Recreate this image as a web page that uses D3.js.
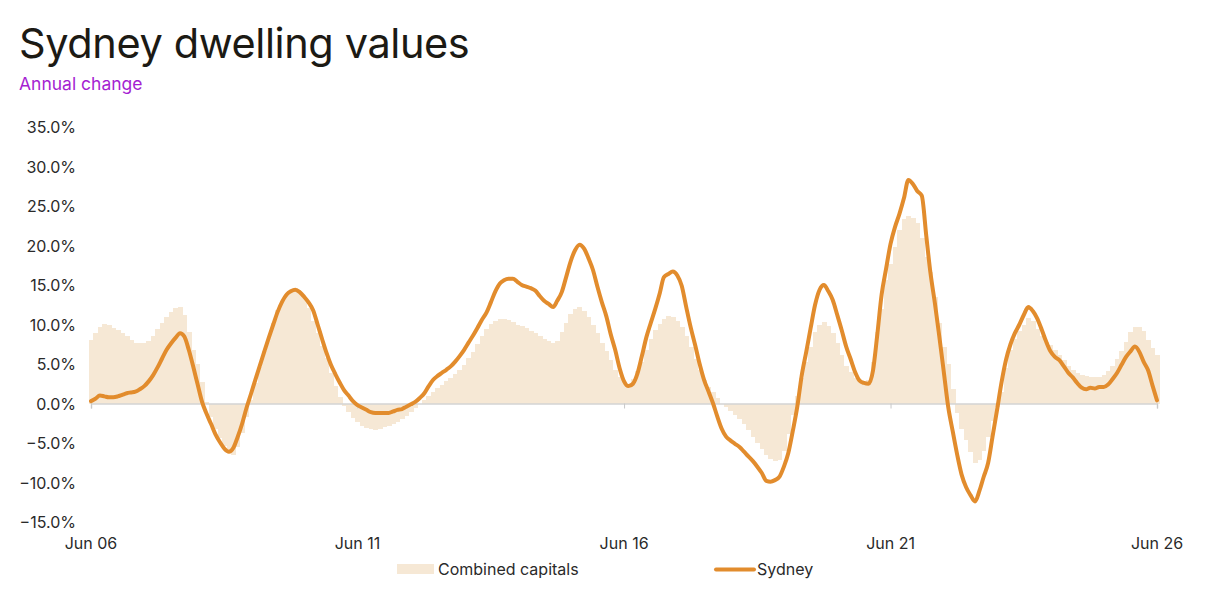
<!DOCTYPE html>
<html>
<head>
<meta charset="utf-8">
<script src="https://cdn.jsdelivr.net/npm/d3@7"></script>
<style>
  body { margin: 0; background: #fff; }
  svg { display: block; font-family: Inter, "Noto Sans", sans-serif; }
</style>
</head>
<body>
<svg id="chart" width="1216" height="604"></svg>
<script>
// Monthly annual change (%), Jun 2006 .. Jun 2026
const combinedCapitals = [
  8.0, 8.9, 9.7, 10.1, 9.9, 9.6, 9.3, 8.9, 8.5, 8.0, 7.7, 7.6, 7.7, 7.9, 8.6, 9.4, 10.2, 10.9, 11.6, 12.1,
  12.2, 11.2, 9.0, 6.8, 5.0, 2.7, 0.2, -1.7, -3.2, -4.4, -5.4, -6.3, -6.5, -5.5, -3.7, -1.7, 0.4, 2.6, 4.6, 6.6,
  8.4, 10.2, 11.8, 13.0, 13.9, 14.4, 14.6, 14.2, 13.4, 12.1, 10.5, 8.9, 7.3, 5.8, 3.8, 2.2, 0.8, -0.3, -1.1, -1.8,
  -2.4, -2.8, -3.1, -3.2, -3.3, -3.2, -3.0, -2.8, -2.6, -2.3, -2.0, -1.6, -1.1, -0.6, -0.1, 0.5, 1.0, 1.5, 2.0, 2.4,
  2.8, 3.2, 3.7, 4.3, 4.9, 5.7, 6.5, 7.5, 8.5, 9.4, 10.1, 10.5, 10.7, 10.7, 10.6, 10.3, 10.0, 9.8, 9.5, 9.2,
  8.9, 8.6, 8.2, 7.9, 7.6, 7.9, 9.0, 10.2, 11.3, 12.0, 12.2, 11.7, 11.0, 9.9, 8.9, 7.7, 6.6, 5.5, 4.3, 3.3,
  2.7, 2.5, 3.1, 4.1, 5.3, 6.8, 8.2, 9.3, 10.1, 10.7, 11.1, 11.0, 10.5, 9.7, 8.5, 7.2, 5.6, 4.2, 3.0, 2.1,
  1.4, 0.7, 0.0, -0.5, -1.0, -1.5, -2.0, -2.6, -3.3, -4.2, -5.0, -5.8, -6.5, -7.0, -7.3, -7.1, -6.0, -3.9, -1.5, 1.0,
  3.2, 5.2, 7.2, 9.0, 10.0, 10.3, 9.8, 8.9, 7.6, 6.2, 4.8, 4.0, 3.2, 2.7, 2.6, 3.0, 5.2, 9.0, 12.0, 15.6,
  17.7, 19.8, 22.0, 23.3, 23.7, 23.5, 22.8, 21.0, 18.6, 16.7, 13.5, 10.2, 7.2, 5.0, 1.8, -1.2, -3.2, -4.6, -6.2, -7.5,
  -7.2, -6.0, -4.2, -2.2, -0.4, 1.5, 4.5, 6.8, 8.2, 9.2, 10.0, 10.8, 10.4, 9.4, 8.5, 7.8, 7.4, 6.8, 6.2, 5.5,
  4.8, 4.2, 3.8, 3.6, 3.5, 3.4, 3.4, 3.4, 3.6, 4.1, 4.8, 5.6, 6.6, 7.8, 9.0, 9.7, 9.7, 9.2, 8.0, 7.0,
  6.1
];

const sydney = [
  0.3, 0.6, 1.0, 0.9, 0.8, 0.8, 0.9, 1.1, 1.3, 1.4, 1.5, 1.8, 2.2, 2.8, 3.6, 4.6, 5.7, 6.8, 7.6, 8.3,
  8.9, 8.5, 6.8, 4.7, 2.4, 0.2, -1.3, -2.6, -3.9, -4.9, -5.7, -6.1, -5.6, -4.3, -2.6, -0.6, 1.2, 3.0, 4.8, 6.6,
  8.3, 10.0, 11.6, 12.9, 13.8, 14.2, 14.4, 14.1, 13.5, 12.8, 11.8, 10.0, 8.2, 6.4, 4.9, 3.7, 2.6, 1.7, 1.0, 0.3,
  -0.2, -0.5, -0.8, -1.1, -1.2, -1.2, -1.2, -1.2, -1.0, -0.8, -0.7, -0.4, -0.1, 0.2, 0.7, 1.3, 2.2, 3.0, 3.5, 3.9,
  4.3, 4.7, 5.3, 6.0, 6.8, 7.7, 8.6, 9.6, 10.6, 11.5, 12.8, 14.2, 15.2, 15.6, 15.8, 15.8, 15.4, 15.0, 14.8, 14.6,
  14.3, 13.6, 13.0, 12.6, 12.2, 13.0, 14.1, 16.0, 18.0, 19.4, 20.1, 19.6, 18.4, 16.9, 14.8, 12.8, 11.0, 8.8, 6.8, 4.5,
  2.8, 2.2, 2.5, 3.8, 6.0, 8.4, 10.2, 12.0, 14.0, 16.0, 16.4, 16.7, 16.2, 14.9, 12.2, 9.6, 7.4, 5.0, 3.0, 1.5,
  0.0, -1.6, -3.2, -4.2, -4.7, -5.1, -5.5, -6.1, -6.7, -7.3, -8.0, -8.8, -9.8, -9.9, -9.7, -9.3, -8.0, -6.3, -3.5, -0.4,
  3.5, 6.5, 9.5, 12.5, 14.4, 15.0, 14.2, 13.1, 11.2, 9.3, 7.2, 5.6, 4.0, 2.9, 2.6, 2.5, 4.2, 8.5, 13.8, 17.0,
  20.2, 22.3, 24.0, 26.0, 28.3, 27.8, 26.9, 26.3, 21.2, 16.6, 12.7, 8.5, 4.0, -0.4, -3.5, -6.5, -9.0, -10.6, -11.6, -12.4,
  -11.0, -9.3, -7.5, -4.2, -0.8, 2.6, 5.5, 7.5, 8.9, 10.0, 11.2, 12.2, 11.7, 10.8, 9.4, 7.9, 6.6, 5.9, 5.5, 4.7,
  3.9, 3.3, 2.6, 2.0, 1.8, 2.0, 1.9, 2.1, 2.1, 2.4, 3.1, 3.9, 4.9, 5.9, 6.6, 7.2, 6.5, 5.3, 4.2, 2.3,
  0.4
];

const yTickValues = [35, 30, 25, 20, 15, 10, 5, 0, -5, -10, -15];
const xTickLabels = ["Jun 06", "Jun 11", "Jun 16", "Jun 21", "Jun 26"];
const seriesNames = ["Combined capitals", "Sydney"];

// one month per value, starting Jun 2006
const months = combinedCapitals.map((_, i) => new Date(2006, 5 + i, 1));
const xTickDates = xTickLabels.map((_, i) => new Date(2006 + i * 5, 5, 1));

const barColor = "#f6e8d5";
const lineColor = "#e28c2d";

const svg = d3.select("#chart");
const plot = { left: 91, right: 1157, top: 127, bottom: 522 };

const xScale = d3.scaleTime()
  .domain(d3.extent(months))
  .range([plot.left, plot.right]);

const yScale = d3.scaleLinear()
  .domain([-15, 35])
  .range([plot.bottom, plot.top]);

const barWidth = (plot.right - plot.left) / (months.length - 1);

// Title
svg.append("text")
  .attr("x", 19)
  .attr("y", 58)
  .style("font-size", "41.5px")
  .style("letter-spacing", "-0.4px")
  .style("fill", "#1c1a14")
  .text("Sydney dwelling values");

svg.append("text")
  .attr("x", 19)
  .attr("y", 90)
  .style("font-size", "17.5px")
  .style("fill", "#a51fd2")
  .text("Annual change");

// Y axis labels (no line)
const yAxis = d3.axisLeft(yScale)
  .tickValues(yTickValues)
  .tickSize(0)
  .tickPadding(0)
  .tickFormat((d) => d3.format(".1f")(d) + "%");

const gY = svg.append("g")
  .attr("transform", `translate(76,0)`)
  .call(yAxis);
gY.select(".domain").remove();
gY.selectAll("text")
  .style("font-family", "Inter, sans-serif")
  .style("font-size", "16px")
  .style("fill", "#2a2a2a")
  .attr("dy", "0.35em");

// Bars
svg.append("g")
  .attr("shape-rendering", "crispEdges")
  .selectAll("rect")
  .data(combinedCapitals)
  .join("rect")
  .attr("x", (d, i) => xScale(months[i]) - barWidth / 2)
  .attr("width", barWidth + 0.6)
  .attr("y", (d) => yScale(Math.max(0, d)))
  .attr("height", (d) => Math.abs(yScale(d) - yScale(0)))
  .attr("fill", barColor);

// Zero line with ticks
const xAxis = d3.axisBottom(xScale)
  .tickValues(xTickDates)
  .tickSize(5)
  .tickFormat("");
const gX = svg.append("g")
  .attr("transform", `translate(0,${yScale(0)})`)
  .call(xAxis);
gX.select(".domain").attr("stroke", "#d4d4d4").attr("stroke-width", 1.5);
gX.selectAll(".tick line").attr("stroke", "#c8c8c8");

// X labels at bottom
svg.append("g")
  .selectAll("text")
  .data(xTickLabels)
  .join("text")
  .attr("x", (d, i) => xScale(xTickDates[i]))
  .attr("y", 549)
  .attr("text-anchor", "middle")
  .style("font-size", "16px")
  .style("fill", "#2a2a2a")
  .text((d) => d);

// Sydney line
const line = d3.line()
  .x((d, i) => xScale(months[i]))
  .y((d) => yScale(d))
  .curve(d3.curveMonotoneX);

svg.append("path")
  .datum(sydney)
  .attr("d", line)
  .attr("fill", "none")
  .attr("stroke", lineColor)
  .attr("stroke-width", 4)
  .attr("stroke-linejoin", "round")
  .attr("stroke-linecap", "round");

// Legend
const legend = svg.append("g");
legend.append("rect")
  .attr("x", 397).attr("y", 564)
  .attr("width", 37).attr("height", 10)
  .attr("fill", barColor);
legend.append("text")
  .attr("x", 438).attr("y", 575)
  .style("font-size", "16px")
  .style("fill", "#2a2a2a")
  .text(seriesNames[0]);
legend.append("line")
  .attr("x1", 716).attr("x2", 754)
  .attr("y1", 569.5).attr("y2", 569.5)
  .attr("stroke", lineColor)
  .attr("stroke-width", 4)
  .attr("stroke-linecap", "round");
legend.append("text")
  .attr("x", 757).attr("y", 575)
  .style("font-size", "16px")
  .style("fill", "#2a2a2a")
  .text(seriesNames[1]);
</script>
</body>
</html>
